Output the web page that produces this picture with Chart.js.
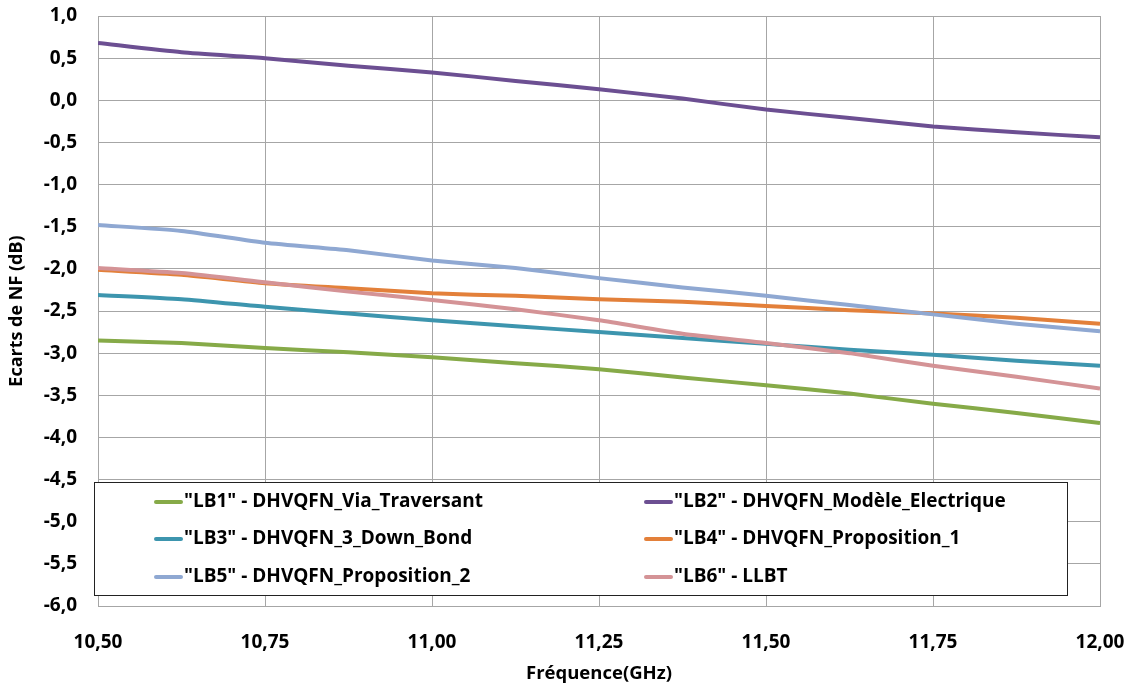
<!DOCTYPE html>
<html>
<head>
<meta charset="utf-8">
<script src="https://cdn.jsdelivr.net/npm/chart.js@4"></script>
<style>
  html, body { margin: 0; padding: 0; background: #fff; }
  #wrap { width: 1133px; height: 687px; position: relative; }
</style>
</head>
<body>
<div id="wrap"><canvas id="chart" width="1133" height="687"></canvas></div>
<script>
// Fréquence (GHz)
const freq = [10.5, 10.625, 10.75, 10.875, 11.0, 11.125, 11.25, 11.375, 11.5, 11.625, 11.75, 11.875, 12.0];

// Ecarts de NF (dB)
const lb1 = [-2.85, -2.88, -2.94, -2.99, -3.05, -3.12, -3.19, -3.29, -3.38, -3.48, -3.60, -3.71, -3.83];
const lb2 = [0.68, 0.57, 0.50, 0.41, 0.33, 0.23, 0.13, 0.02, -0.11, -0.21, -0.31, -0.38, -0.44];
const lb3 = [-2.31, -2.36, -2.45, -2.53, -2.61, -2.68, -2.75, -2.82, -2.89, -2.96, -3.02, -3.09, -3.15];
const lb4 = [-2.01, -2.07, -2.17, -2.23, -2.29, -2.32, -2.36, -2.39, -2.44, -2.49, -2.53, -2.58, -2.65];
const lb5 = [-1.48, -1.55, -1.69, -1.78, -1.90, -1.99, -2.11, -2.22, -2.32, -2.43, -2.54, -2.65, -2.74];
const lb6 = [-1.99, -2.05, -2.16, -2.27, -2.37, -2.48, -2.61, -2.77, -2.88, -3.00, -3.15, -3.28, -3.42];

const seriesNames = [
  '"LB1" - DHVQFN_Via_Traversant',
  '"LB2" - DHVQFN_Modèle_Electrique',
  '"LB3" - DHVQFN_3_Down_Bond',
  '"LB4" - DHVQFN_Proposition_1',
  '"LB5" - DHVQFN_Proposition_2',
  '"LB6" - LLBT'
];
const seriesColors = ['#86aa48', '#6c4f92', '#3d95ae', '#e3803a', '#8fa8d2', '#d49396'];
const seriesValues = [lb1, lb2, lb3, lb4, lb5, lb6];

const FONT = '"Open Sans", Lato, sans-serif';

const datasets = seriesValues.map((vals, i) => ({
  label: seriesNames[i],
  data: vals.map((v, j) => ({ x: freq[j], y: v })),
  borderColor: seriesColors[i],
  backgroundColor: seriesColors[i],
  borderWidth: 4,
  pointRadius: 0,
  tension: 0.2,
  fill: false,
  order: 6 - i
}));

// legend box drawn inside the plot, like the original
const boxLegend = {
  id: 'boxLegend',
  afterDraw(chart) {
    const ctx = chart.ctx;
    const x0 = 94.5, y0 = 482.5, w = 973, h = 113;
    ctx.save();
    ctx.fillStyle = '#fff';
    ctx.fillRect(x0, y0, w, h);
    ctx.strokeStyle = '#222';
    ctx.lineWidth = 1;
    ctx.strokeRect(x0, y0, w, h);
    ctx.font = 'bold 19px ' + FONT;
    ctx.textBaseline = 'middle';
    ctx.lineCap = 'round';
    const cols = [154, 644];
    const rows = [502, 539, 577];
    seriesNames.forEach((name, i) => {
      const cx = cols[i % 2], cy = rows[Math.floor(i / 2)];
      ctx.strokeStyle = seriesColors[i];
      ctx.lineWidth = 4;
      ctx.beginPath();
      ctx.moveTo(cx + 2, cy);
      ctx.lineTo(cx + 27, cy);
      ctx.stroke();
      ctx.fillStyle = '#000';
      ctx.fillText(name, cx + 30, cy);
    });
    ctx.restore();
  }
};

new Chart(document.getElementById('chart'), {
  type: 'line',
  data: { datasets },
  options: {
    responsive: false,
    animation: false,
    layout: { padding: { top: 16, right: 33, left: 0, bottom: 0 } },
    plugins: { legend: { display: false }, tooltip: { enabled: false } },
    scales: {
      x: {
        type: 'linear',
        min: 10.5,
        max: 12,
        afterFit: (s) => { s.height = 81; s.paddingLeft = 0; s.paddingRight = 0; },
        grid: { color: '#a6a6a6', drawTicks: false },
        border: { color: '#a6a6a6' },
        ticks: {
          stepSize: 0.25,
          padding: 25,
          color: '#000',
          font: { family: FONT, size: 19, weight: 'bold' },
          callback: (v) => v.toFixed(2).replace('.', ',')
        },
        title: {
          display: true,
          text: 'Fréquence(GHz)',
          color: '#000',
          padding: { top: 0, bottom: 2 },
          font: { family: FONT, size: 18.5, weight: 'bold' }
        }
      },
      y: {
        min: -6,
        max: 1,
        afterFit: (s) => { s.width = 98; s.paddingTop = 0; s.paddingBottom = 0; },
        grid: { color: '#a6a6a6', drawTicks: false },
        border: { color: '#a6a6a6' },
        ticks: {
          stepSize: 0.5,
          padding: 21,
          color: '#000',
          font: { family: FONT, size: 19, weight: 'bold' },
          callback: (v) => v.toFixed(1).replace('.', ',')
        },
        title: {
          display: true,
          text: 'Ecarts de NF (dB)',
          color: '#000',
          padding: { top: 6 },
          font: { family: FONT, size: 18, weight: 'bold' }
        }
      }
    }
  },
  plugins: [boxLegend]
});
</script>
</body>
</html>
